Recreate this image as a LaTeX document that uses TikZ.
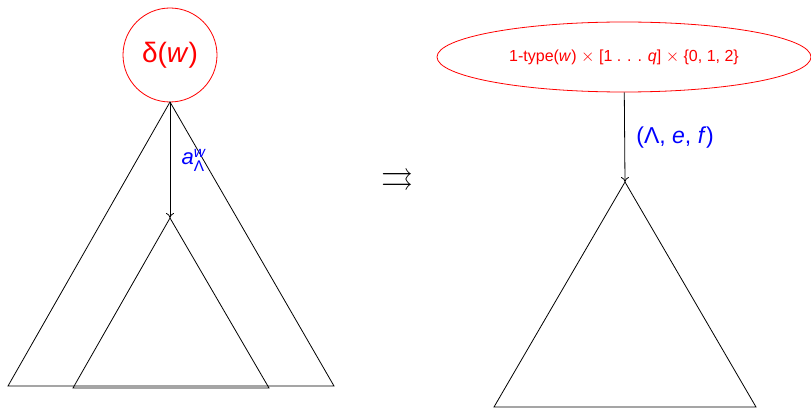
\documentclass[tikz,border=0pt]{standalone}
\usepackage{amsmath,amssymb}
\usepackage{fontspec}
\setmainfont{Liberation Sans}
\usetikzlibrary{shapes.geometric,arrows.meta}

\begin{document}
\begin{tikzpicture}[x = 1pt, y = -1pt, line width = 0.8pt, >={To[length=5pt,width=8pt]}]
\useasboundingbox (0,0) rectangle (811,409);
% left tree
\node[draw = red, circle, minimum size = 94pt, inner sep = 0pt, text = red, font = \fontsize{28}{30}\selectfont](D)at(170,55){δ(\textit{w})};
\coordinate(T1)at(170,102);
\coordinate(L1)at(8,386);
\coordinate(R1)at(334,386);
\coordinate(T2)at(170,218);
\coordinate(L2)at(73,388);
\coordinate(R2)at(269,388);
\path[draw](T1)--(L1)--(R1)--cycle;
\path[draw](T2)--(L2)--(R2)--cycle;
\path[draw, ->](D)to node[right = 8pt, pos = 0.5, text = blue, font = \fontsize{22}{24}\selectfont]{\textit{a}$_{\text{Λ}}^{\textit{w}}$}(T2);
% arrow between
\node[font = \fontsize{32}{34}\selectfont](M)at(397,180){$\rightrightarrows$};
% right tree
\node[draw = red, ellipse, minimum width = 374pt, minimum height = 70pt, inner sep = 0pt, text = red, font = \fontsize{16}{18}\selectfont](E)at(624,57){1-type(\textit{w}) $\times$ [1 . . . \textit{q}] $\times$ \{0, 1, 2\}};
\coordinate(T3)at(625,182);
\coordinate(L3)at(494,407);
\coordinate(R3)at(756,407);
\path[draw](T3)--(L3)--(R3)--cycle;
\path[draw, ->](E)to node[right = 8pt, pos = 0.5, text = blue, font = \fontsize{23}{25}\selectfont]{(Λ, \textit{e}, \textit{f})}(T3);
\end{tikzpicture}
\end{document}
